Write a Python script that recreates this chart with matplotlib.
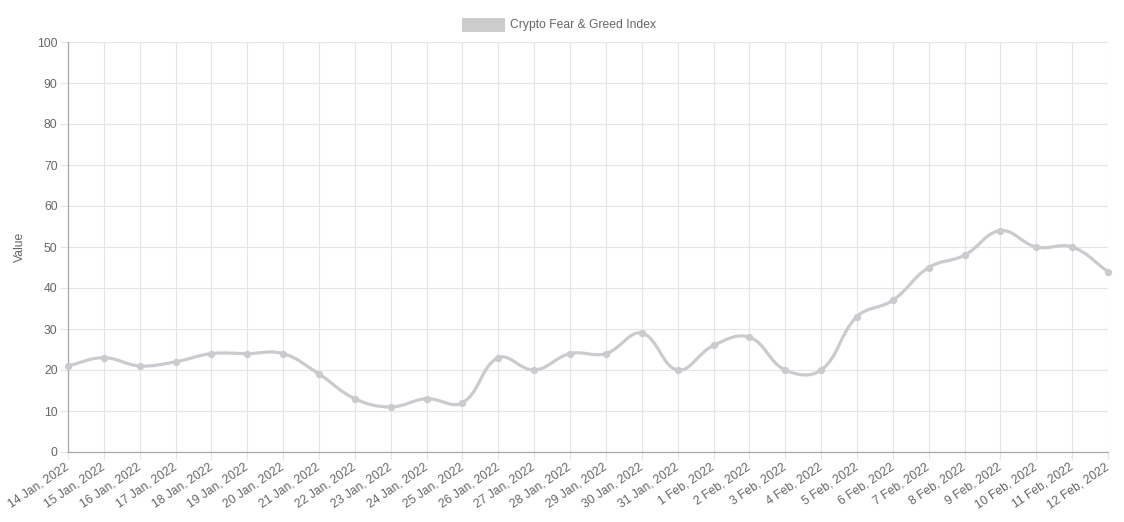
import numpy as np
import matplotlib.pyplot as plt
from matplotlib.path import Path
from matplotlib.patches import PathPatch, Rectangle

plt.rcParams['font.family'] = ['Liberation Sans', 'DejaVu Sans']

dates = ['14 Jan, 2022', '15 Jan, 2022', '16 Jan, 2022', '17 Jan, 2022', '18 Jan, 2022',
         '19 Jan, 2022', '20 Jan, 2022', '21 Jan, 2022', '22 Jan, 2022', '23 Jan, 2022',
         '24 Jan, 2022', '25 Jan, 2022', '26 Jan, 2022', '27 Jan, 2022', '28 Jan, 2022',
         '29 Jan, 2022', '30 Jan, 2022', '31 Jan, 2022', '1 Feb, 2022', '2 Feb, 2022',
         '3 Feb, 2022', '4 Feb, 2022', '5 Feb, 2022', '6 Feb, 2022', '7 Feb, 2022',
         '8 Feb, 2022', '9 Feb, 2022', '10 Feb, 2022', '11 Feb, 2022', '12 Feb, 2022']
values = [21, 23, 21, 22, 24, 24, 24, 19, 13, 11, 13, 12, 23, 20, 24,
          24, 29, 20, 26, 28, 20, 20, 33, 37, 45, 48, 54, 50, 50, 44]
series_name = 'Crypto Fear & Greed Index'

grey = '#c9cbcf'
text_col = '#666666'
grid_col = '#e5e5e5'
fs = 8.7

W, H = 1124, 522
fig = plt.figure(figsize=(W / 100, H / 100), dpi=100)
left, right, top, bottom = 68, 1108, 42, 452
ax = fig.add_axes([left / W, 1 - bottom / H, (right - left) / W, (bottom - top) / H])

n = len(values)
x = np.arange(n)
y = np.array(values, dtype=float)
ax.set_xlim(0, n - 1)
ax.set_ylim(0, 100)

# chart.js style bezier (tension 0.4), distances measured in pixels
sx = (right - left) / (n - 1)
sy = (bottom - top) / 100
px, py = x * sx, y * sy
t = 0.4
verts = [(x[0], y[0])]
codes = [Path.MOVETO]
cps = []
for i in range(n):
    p0 = max(i - 1, 0)
    p2 = min(i + 1, n - 1)
    d01 = np.hypot(px[i] - px[p0], py[i] - py[p0])
    d12 = np.hypot(px[p2] - px[i], py[p2] - py[i])
    s01 = d01 / (d01 + d12) if d01 + d12 else 0
    s12 = d12 / (d01 + d12) if d01 + d12 else 0
    fa, fb = t * s01, t * s12
    cps.append(((x[i] - fa * (x[p2] - x[p0]), y[i] - fa * (y[p2] - y[p0])),
                (x[i] + fb * (x[p2] - x[p0]), y[i] + fb * (y[p2] - y[p0]))))
for i in range(1, n):
    verts += [cps[i - 1][1], cps[i][0], (x[i], y[i])]
    codes += [Path.CURVE4] * 3
ax.add_patch(PathPatch(Path(verts, codes), facecolor='none', edgecolor=grey, lw=2.3,
                       capstyle='round', joinstyle='round', zorder=3, clip_on=False))
ax.scatter(x, y, s=28, color=grey, zorder=4, linewidths=0, clip_on=False)

ax.set_xticks(x)
ax.set_xticklabels(dates, rotation=34, ha='right', va='center', rotation_mode='anchor')
ax.set_yticks(np.arange(0, 101, 10))
ax.grid(True, color=grid_col, lw=0.8)
ax.set_axisbelow(True)
ax.tick_params(axis='both', colors=grid_col, labelcolor=text_col, labelsize=fs,
               length=6, width=0.8)
ax.tick_params(axis='x', pad=4)
ax.tick_params(axis='y', pad=1.5)
for s in ['top', 'right']:
    ax.spines[s].set_visible(False)
for s in ['left', 'bottom']:
    ax.spines[s].set_color('#a8a8a8')
    ax.spines[s].set_linewidth(0.9)
ax.set_ylabel('Value', color=text_col, fontsize=fs)
ax.yaxis.set_label_coords((26 - left) / (right - left), 0.5)

# legend
fig.patches.append(Rectangle((462 / W, 1 - 32 / H), 43 / W, 14 / H, transform=fig.transFigure,
                             facecolor='#cccccc', edgecolor='none'))
fig.text(510 / W, 1 - 25 / H, series_name, color=text_col, fontsize=fs, va='center', ha='left')

fig.savefig('out.png', dpi=100)
